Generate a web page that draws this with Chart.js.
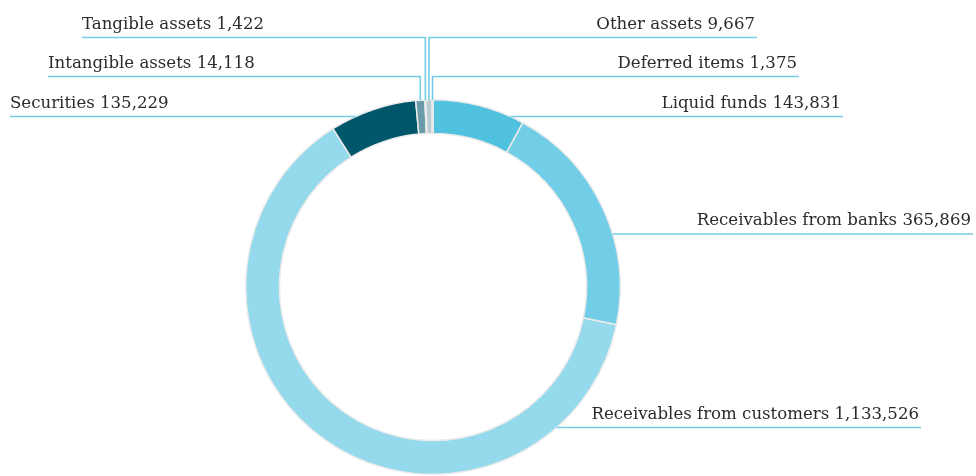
<!DOCTYPE html>
<html>
<head>
<meta charset="utf-8">
<script src="https://cdn.jsdelivr.net/npm/chart.js@4/dist/chart.umd.min.js"></script>
<style>
  html, body { margin: 0; padding: 0; background: #ffffff; }
  #wrap { width: 976px; height: 476px; position: relative; }
</style>
</head>
<body>
<div id="wrap"><canvas id="c"></canvas></div>
<script>
// ---- data ----
const categories = [
  'Liquid funds',
  'Receivables from banks',
  'Receivables from customers',
  'Securities',
  'Intangible assets',
  'Tangible assets',
  'Other assets',
  'Deferred items'
];
const values = [143831, 365869, 1133526, 135229, 14118, 1422, 9667, 1375];
const valueLabels = ['143,831', '365,869', '1,133,526', '135,229', '14,118', '1,422', '9,667', '1,375'];

// ---- styling ----
const sliceColors = ['#50c2df', '#72cde6', '#95d9ec', '#00576b', '#6b9ba9', '#9bb8c0', '#b9cdd2', '#cfdde1'];
const lineColor = '#74cde4';

// label layout: leader type, label line y, anchor x, text side
const labelLayout = [
  { leader: 'h', y: 116.5, x: 843, side: 'right' },
  { leader: 'h', y: 234,   x: 973, side: 'right' },
  { leader: 'h', y: 427.5, x: 921, side: 'right' },
  { leader: 'h', y: 116.5, x: 10,  side: 'left'  },
  { leader: 'v', y: 76.5,  x: 48,  side: 'left'  },
  { leader: 'v', y: 37.5,  x: 82,  side: 'left'  },
  { leader: 'v', y: 37.5,  x: 757, side: 'right' },
  { leader: 'v', y: 76.5,  x: 799, side: 'right' }
];

const leaderPlugin = {
  id: 'leaders',
  afterDatasetsDraw(chart) {
    const ctx = chart.ctx;
    const meta = chart.getDatasetMeta(0);
    ctx.save();
    ctx.font = '16.6px "DejaVu Serif", "Liberation Serif", serif';
    ctx.textBaseline = 'alphabetic';
    meta.data.forEach((arc, i) => {
      const L = labelLayout[i];
      const cx = arc.x, cy = arc.y, R = arc.outerRadius;
      const text = categories[i] + ' ' + valueLabels[i];
      ctx.strokeStyle = lineColor;
      ctx.lineWidth = 1.6;
      ctx.beginPath();
      if (L.leader === 'v') {
        const mid = (arc.startAngle + arc.endAngle) / 2;
        const px = cx + R * Math.cos(mid);
        const py = cy + R * Math.sin(mid);
        ctx.moveTo(px, py);
        ctx.lineTo(px, L.y);
        ctx.lineTo(L.x, L.y);
      } else {
        const dy = L.y - cy;
        const dx = Math.sqrt(Math.max(0, R * R - dy * dy));
        const px = L.side === 'right' ? cx + dx : cx - dx;
        ctx.moveTo(px, L.y);
        ctx.lineTo(L.x, L.y);
      }
      ctx.stroke();
      ctx.fillStyle = '#2b2b2b';
      if (L.side === 'right') {
        ctx.textAlign = 'right';
        ctx.fillText(text, L.x - 2, L.y - 9);
      } else {
        ctx.textAlign = 'left';
        ctx.fillText(text, L.x, L.y - 9);
      }
    });
    ctx.restore();
  }
};

new Chart(document.getElementById('c'), {
  type: 'doughnut',
  data: {
    labels: categories,
    datasets: [{
      data: values,
      backgroundColor: sliceColors,
      borderColor: '#ebebeb',
      borderWidth: 1.5
    }]
  },
  options: {
    responsive: true,
    maintainAspectRatio: false,
    animation: false,
    cutout: '82%',
    rotation: 0,
    layout: { padding: { top: 99, bottom: 1, left: 0, right: 110 } },
    plugins: {
      legend: { display: false },
      tooltip: { enabled: false }
    }
  },
  plugins: [leaderPlugin]
});
</script>
</body>
</html>
